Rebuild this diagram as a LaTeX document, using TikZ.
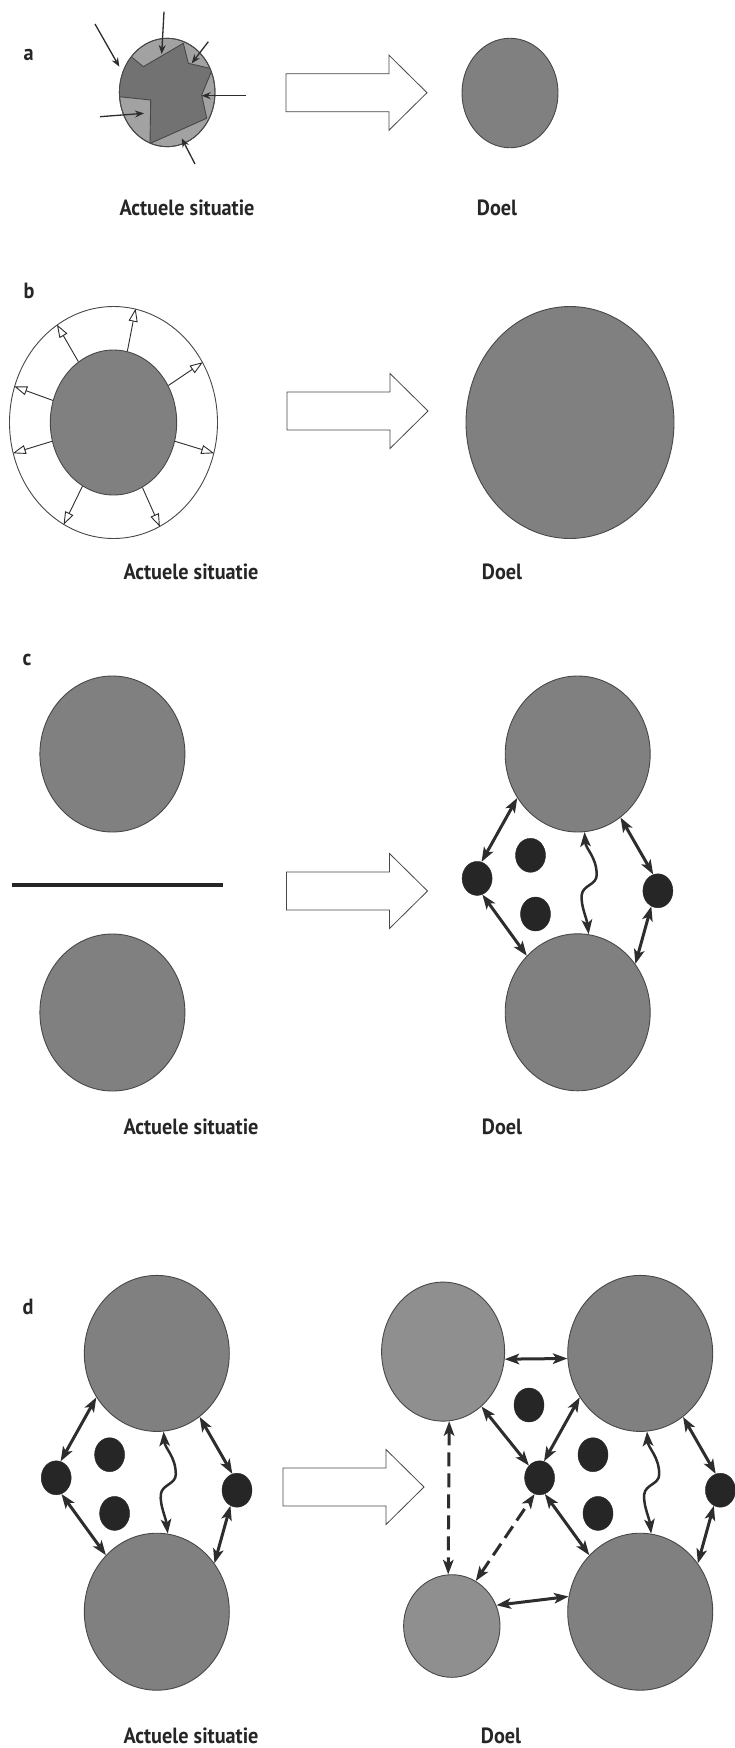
\documentclass[tikz,border=0pt]{standalone}
\usepackage{fontspec}
\setmainfont{PT Sans}[FakeStretch=0.92]
\usetikzlibrary{shapes.geometric,arrows.meta}

\definecolor{blobgray}{RGB}{128,128,128}
\definecolor{paleblob}{RGB}{143,143,143}
\definecolor{rimgray}{RGB}{72,72,72}
\definecolor{dotgray}{RGB}{38,38,38}
\definecolor{linkgray}{RGB}{45,45,45}
\definecolor{ringlight}{RGB}{162,162,162}
\definecolor{corefill}{RGB}{114,114,114}

\begin{document}
\begin{tikzpicture}[x=1pt,y=-1pt,
  blob/.style={ellipse, draw=rimgray, fill=blobgray, line width=0.9pt, inner sep=0pt},
  dotnode/.style={ellipse, draw=dotgray, fill=dotgray, inner sep=0pt,
                  minimum width=30pt, minimum height=34pt},
  link/.style={draw=linkgray, line width=3pt,
               >={Stealth[length=14.5pt,width=10.5pt,inset=3.5pt]}, <->},
  dashlink/.style={link, dash pattern=on 14pt off 7pt},
  inarrow/.style={draw=linkgray, line width=1.3pt, -{Stealth[length=9pt,width=7pt]}},
  outarrow/.style={draw=linkgray, line width=0.9pt, -{Triangle[open,length=13pt,width=9pt]}},
  hollow/.style={draw=rimgray, fill=white, line width=0.8pt},
  caption/.style={font=\bfseries\fontsize{22}{26}\selectfont, anchor=base, text=black!85},
  panel/.style={font=\bfseries\fontsize{22}{26}\selectfont, anchor=base west, text=black!85},
  bigarrow/.pic={\draw[hollow] (0,-19) -- (103,-19) -- (103,-37.5) -- (141,0)
                   -- (103,37.5) -- (103,19) -- (0,19) -- cycle;},
  cluster/.pic={
    \node[blob, minimum width=145pt, minimum height=156pt] (-T) at (0,0) {};
    \node[blob, minimum width=145pt, minimum height=157pt] (-B) at (0,258.3) {};
    \node[dotnode] (-D1) at (-100.6,124.4) {};
    \node[dotnode] (-D2) at (-47.2,101.3) {};
    \node[dotnode] (-D3) at (-42.2,160) {};
    \node[dotnode] (-D4) at (80.2,136.8) {};
    \draw[link] (-D1.75) -- (-T.216);
    \draw[link] (-D1.-72) -- (-B.132);
    \draw[link] (-T.-56) -- (-D4.106);
    \draw[link] (-D4.-113) -- (-B.40);
    \draw[link, line width=2.5pt] (-T.-85) .. controls (8,95) and (19,103) .. (19,121)
        .. controls (19,131) and (5,131) .. (4,141)
        .. controls (3,152) and (9,164) .. (-B.82);
  }]

\fill[white] (0,0) rectangle (734,1748);
\useasboundingbox (0,0) rectangle (734,1748);

% ---------- a: filling the gaps ----------
\node[panel] (labA) at (20,60) {a};
\node[blob, fill=ringlight, minimum width=95.6pt, minimum height=108.4pt] (aNow) at (167.2,92.5) {};
\begin{scope}
  \clip (167.2,92.5) ellipse [x radius=47.8pt, y radius=54.2pt];
  \draw[fill=corefill, draw=rimgray, line width=0.9pt]
    (128,54) -- (143.3,66.7) -- (183.3,43.3) -- (188.3,63.3) -- (212.5,68.9)
    -- (201.7,95) -- (206.7,118.3) -- (150,143.5) -- (150.7,100) -- (118,96.6)
    -- (105,97) -- (112,45) -- cycle;
\end{scope}
\node[ellipse, draw=rimgray, line width=0.9pt, inner sep=0pt,
      minimum width=95.6pt, minimum height=108.4pt] (aRim) at (aNow) {};
\coordinate (a1s) at (95,24);     \coordinate (a1e) at (119.3,66.7);
\coordinate (a2s) at (164,11.7);  \coordinate (a2e) at (161.7,54);
\coordinate (a3s) at (208.3,41.7);\coordinate (a3e) at (191.7,63.3);
\coordinate (a4s) at (246,95.7);  \coordinate (a4e) at (201.7,95.7);
\coordinate (a5s) at (100,116.7); \coordinate (a5e) at (144,113.3);
\coordinate (a6s) at (195,164);   \coordinate (a6e) at (181.7,138.3);
\foreach \k in {1,...,6} \draw[inarrow] (a\k s) -- (a\k e);
\pic at (286,92.7) {bigarrow};
\node[blob, minimum width=96pt, minimum height=109.5pt] (aGoal) at (510,93) {};
\node[caption] (aCapL) at (187,215) {Actuele situatie};
\node[caption] (aCapR) at (497,215) {Doel};

% ---------- b: growing ----------
\node[panel] (labB) at (20,298) {b};
\node[ellipse, draw=rimgray, fill=white, line width=0.9pt, inner sep=0pt,
      minimum width=208pt, minimum height=232pt] (bRing) at (113.5,422.5) {};
\node[blob, minimum width=126.4pt, minimum height=145pt] (bNow) at (113.5,422.5) {};
\foreach \a in {79,120,34,160,197,-17,244,-66} \draw[outarrow] (bNow.\a) -- (bRing.\a);
\pic at (287,411) {bigarrow};
\node[blob, minimum width=208pt, minimum height=232pt] (bGoal) at (570,422.5) {};
\node[caption] (bCapL) at (191,579) {Actuele situatie};
\node[caption] (bCapR) at (502,579) {Doel};

% ---------- c: bridging ----------
\node[panel] (labC) at (19,665) {c};
\node[blob, minimum width=145pt, minimum height=156pt] (cTop) at (112.4,754) {};
\node[blob, minimum width=145pt, minimum height=157pt] (cBot) at (112.4,1012.5) {};
\coordinate (cBarL) at (11.7,884.6);
\coordinate (cBarR) at (223.3,884.6);
\draw[line width=3.8pt, dotgray] (cBarL) -- (cBarR);
\pic at (286.5,891) {bigarrow};
\pic (cG) at (577.7,754) {cluster};
\node[caption] (cCapL) at (191,1134) {Actuele situatie};
\node[caption] (cCapR) at (502,1134) {Doel};

% ---------- d: widening the network ----------
\node[panel] (labD) at (19,1314) {d};
\pic (dL) at (156.8,1353.4) {cluster};
\pic at (283,1487) {bigarrow};
\pic (dR) at (640.2,1353.4) {cluster};
\node[blob, fill=paleblob, minimum width=123pt, minimum height=139pt] (dPeer) at (443.1,1351.6) {};
\node[blob, fill=paleblob, minimum width=96.4pt, minimum height=102.6pt] (dSmall) at (451.8,1626) {};
\node[dotnode] (dX) at (529,1405) {};
\draw[link] (dPeer.-7) -- (dR-T.184);
\draw[link] (dSmall.25) -- (dR-B.168);
\draw[dashlink] (dPeer.-85) -- (dSmall.94);
\draw[dashlink] (dSmall.62) -- (dR-D1.253);
\draw[link] (dPeer.-55) -- (dR-D1.131);
\node[caption] (dCapL) at (191,1743) {Actuele situatie};
\node[caption] (dCapR) at (501,1743) {Doel};
\end{tikzpicture}
\end{document}
